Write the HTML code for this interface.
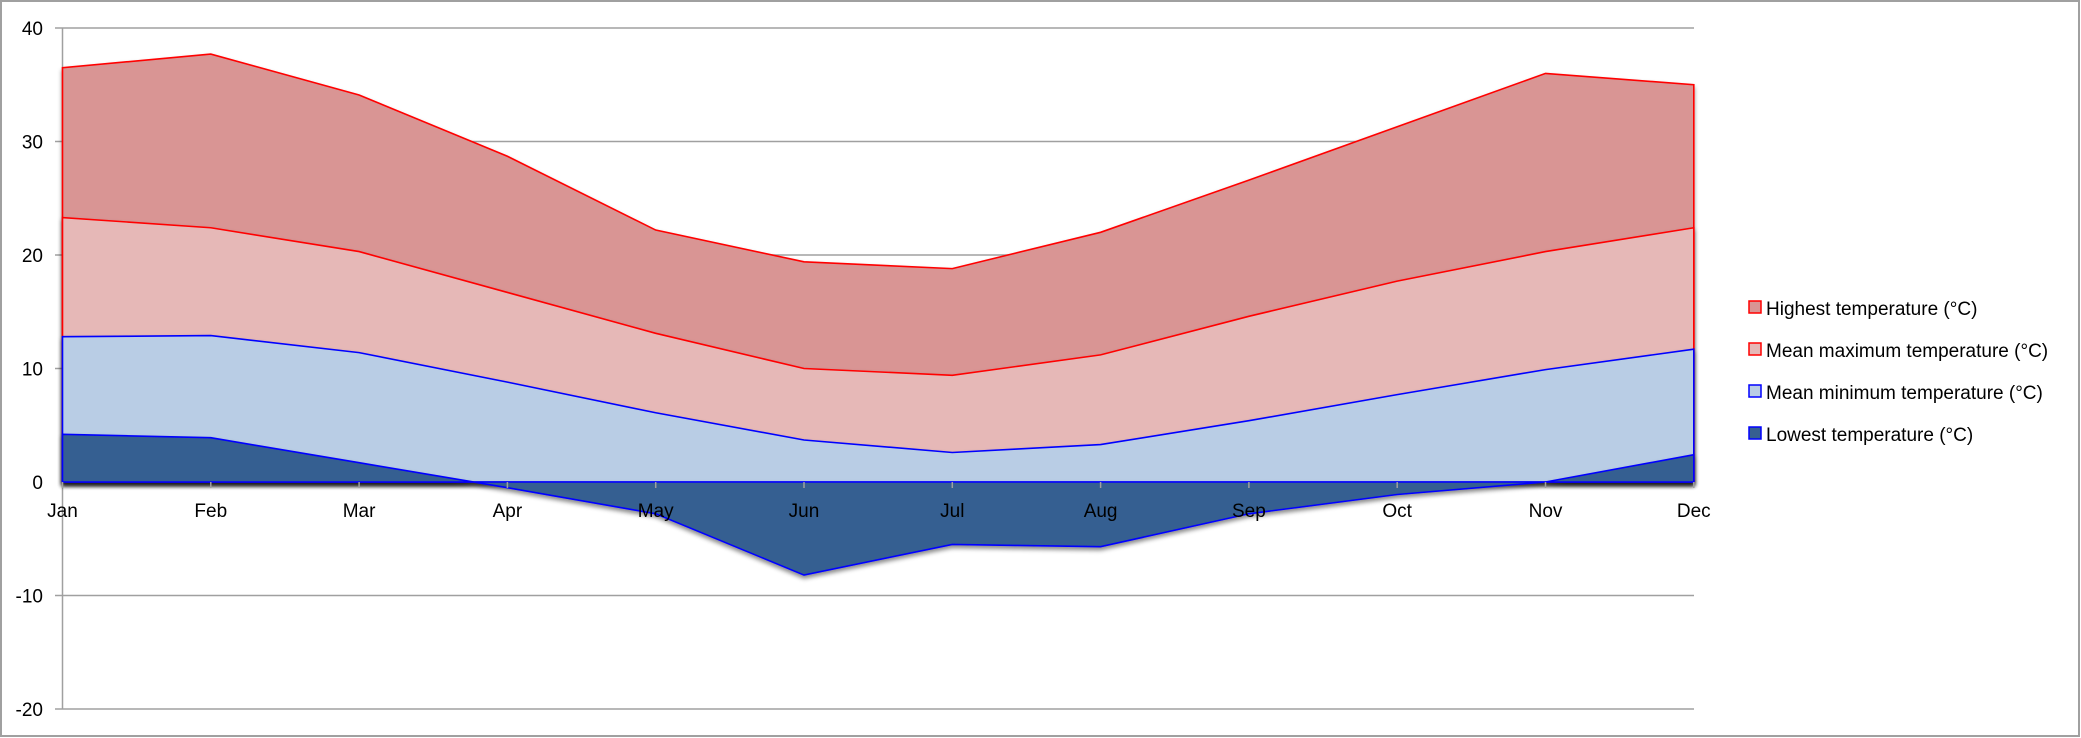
<!DOCTYPE html>
<html><head><meta charset="utf-8"><style>
html,body{margin:0;padding:0;background:#fff}
svg{display:block}
text{font-family:"Liberation Sans",sans-serif;font-size:19px;fill:#000}
</style></head><body>
<svg width="2081" height="738" viewBox="0 0 2081 738" xmlns="http://www.w3.org/2000/svg">
<defs><filter id="sh" x="-5%" y="-5%" width="110%" height="120%"><feDropShadow dx="0" dy="3" stdDeviation="2" flood-color="#000" flood-opacity="0.45"/></filter></defs>
<rect x="1" y="1" width="2078" height="735" fill="#fff" stroke="#a0a0a0" stroke-width="2"/>
<g id="chart"></g>
<script>
(function(){
var ns="http://www.w3.org/2000/svg",g=document.getElementById("chart");
function X(i){return 62.5+148.3*i}
function Y(v){return 482-11.35*v}
function el(t,a,txt){var e=document.createElementNS(ns,t);for(var k in a)e.setAttribute(k,a[k]);if(txt!=null)e.textContent=txt;g.appendChild(e);return e}
for(var v=-20;v<=40;v+=10){if(v!=0)el("line",{x1:55,x2:1694,y1:Y(v),y2:Y(v),stroke:"#a0a0a0","stroke-width":1.5});
el("text",{x:43,y:Y(v)+7,"text-anchor":"end"},String(v));}
el("line",{x1:62.5,x2:62.5,y1:Y(40),y2:Y(-20),stroke:"#a0a0a0","stroke-width":1.5});
var S=[
{d:[36.5,37.7,34.1,28.7,22.2,19.4,18.8,22.0,26.6,31.3,36.0,35.0],f:"#d99594",s:"#ff0000"},
{d:[23.3,22.4,20.3,16.7,13.1,10.0,9.4,11.2,14.6,17.7,20.3,22.4],f:"#e6b8b7",s:"#ff0000"},
{d:[12.8,12.9,11.4,8.8,6.1,3.7,2.6,3.3,5.4,7.7,9.9,11.7],f:"#b9cde5",s:"#0000ff"},
{d:[4.2,3.9,1.7,-0.5,-2.8,-8.2,-5.5,-5.7,-2.8,-1.1,0.0,2.4],f:"#365f91",s:"#0000ff"}];
el("line",{x1:62.5,x2:1694,y1:Y(0)+1,y2:Y(0)+1,stroke:"#444","stroke-width":3,filter:"url(#sh)"});
S.forEach(function(s){var p="M"+X(0)+","+Y(0);s.d.forEach(function(v,i){p+=" L"+X(i)+","+Y(v)});p+=" L"+X(11)+","+Y(0)+" Z";
el("path",{d:p,fill:s.f,stroke:s.s,"stroke-width":1.6,filter:"url(#sh)"});});
var M=["Jan","Feb","Mar","Apr","May","Jun","Jul","Aug","Sep","Oct","Nov","Dec"];
M.forEach(function(m,i){el("line",{x1:X(i),x2:X(i),y1:Y(0),y2:Y(0)+6,stroke:"#a0a0a0","stroke-width":1.5});
el("text",{x:X(i),y:517,"text-anchor":"middle"},m);});
var L=[["Highest temperature (°C)","#d99594","#ff0000"],["Mean maximum temperature (°C)","#e6b8b7","#ff0000"],["Mean minimum temperature (°C)","#b9cde5","#0000ff"],["Lowest temperature (°C)","#365f91","#0000ff"]];
L.forEach(function(l,i){var y=308+42*i;el("rect",{x:1749,y:y-7,width:12,height:12,fill:l[1],stroke:l[2],"stroke-width":1.5});
el("text",{x:1766,y:y+7},l[0]);});
})();
</script>
</svg>
</body></html>
